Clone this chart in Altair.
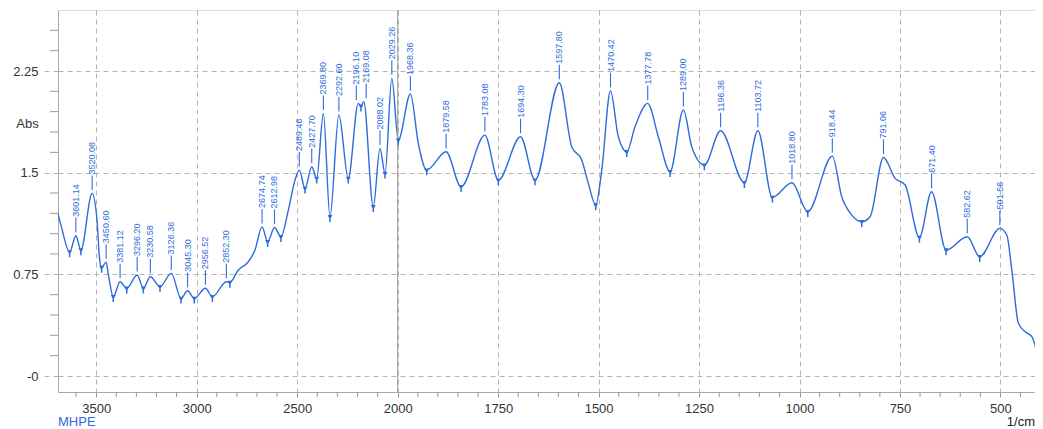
import altair as alt
import pandas as pd

# ---- spectrum trace (1/cm, Abs) ----
wavenumber = [3690, 3673, 3632, 3601.14, 3576, 3520.08, 3496, 3483.6, 3473, 3450.60,
              3439, 3415, 3381.12, 3348, 3296.20, 3265.6, 3230.58, 3182.6, 3126.36, 3078,
              3045.30, 3012, 2956.52, 2922, 2852.30, 2835, 2793, 2743, 2710, 2674.74,
              2647, 2612.98, 2581, 2544, 2511, 2489.46, 2461, 2427.70, 2403, 2369.80,
              2337, 2292.60, 2246, 2196.10, 2182.6, 2169.08, 2121.4, 2088.02, 2063, 2029.26,
              1998.5, 1968.36, 1948.7, 1927.8, 1879.58, 1842.4, 1783.08, 1749.6, 1694.30, 1658.3,
              1597.80, 1566.9, 1542, 1525.6, 1507.2, 1492.2, 1470.42, 1451, 1430, 1409.4,
              1377.78, 1351.4, 1322.2, 1289.00, 1268.2, 1236.9, 1196.36, 1137.3, 1103.72, 1067.6,
              1018.80, 979.5, 918.44, 894.9, 870, 845.1, 824.4, 791.06, 762.2, 737.3,
              701.7, 671.40, 635.3, 582.62, 551.6, 501.56, 484.2, 471.7, 455.3, 438.6,
              421.9, 397]
absorbance = [1.20, 1.10, 0.915, 1.035, 0.93, 1.347, 1.15, 0.87, 0.80, 0.84,
              0.745, 0.585, 0.695, 0.647, 0.745, 0.647, 0.732, 0.659, 0.757, 0.573,
              0.629, 0.573, 0.647, 0.585, 0.695, 0.69, 0.782, 0.843, 0.929, 1.10,
              0.99, 1.096, 1.027, 1.224, 1.445, 1.519, 1.384, 1.544, 1.458, 1.937,
              1.175, 1.925, 1.458, 2.011, 1.99, 2.023, 1.249, 1.679, 1.495, 2.196,
              1.74, 2.08, 1.716, 1.519, 1.654, 1.396, 1.777, 1.445, 1.765, 1.445,
              2.163, 1.691, 1.593, 1.421, 1.261, 1.519, 2.104, 1.765, 1.654, 1.839,
              2.011, 1.765, 1.507, 1.962, 1.691, 1.556, 1.809, 1.426, 1.809, 1.318,
              1.426, 1.212, 1.622, 1.322, 1.187, 1.138, 1.175, 1.612, 1.458, 1.409,
              1.023, 1.359, 0.929, 1.027, 0.880, 1.089, 1.04, 0.782, 0.389, 0.327,
              0.29, 0.005]
assert len(wavenumber) == len(absorbance)

# labelled peaks
peak_wn = [3601.14, 3520.08, 3450.60, 3381.12, 3296.20, 3230.58, 3126.36, 3045.30, 2956.52,
           2852.30, 2674.74, 2612.98, 2489.46, 2427.70, 2369.80, 2292.60, 2196.10, 2169.08,
           2088.02, 2029.26, 1968.36, 1879.58, 1783.08, 1694.30, 1597.80, 1470.42, 1377.78,
           1289.00, 1196.36, 1103.72, 1018.80, 918.44, 791.06, 671.40, 582.62, 501.56]
# marked valleys
valley_wn = [3632, 3576, 3473, 3415, 3348, 3265.6, 3182.6, 3078, 3012, 2922, 2835, 2647,
             2581, 2461, 2403, 2337, 2246, 2182.6, 2121.4, 2063, 1998.5, 1927.8, 1842.4,
             1749.6, 1658.3, 1507.2, 1430, 1322.2, 1236.9, 1137.3, 1067.6, 979.5, 845.1,
             701.7, 635.3, 551.6]

x_major = [3500, 3000, 2500, 2000, 1750, 1500, 1250, 1000, 750, 500]
x_minor = [3600, 3400, 3300, 3200, 3100, 2900, 2800, 2700, 2600, 2400, 2300, 2200, 2100,
           1950, 1900, 1850, 1800, 1700, 1650, 1600, 1550, 1450, 1400, 1350, 1300,
           1200, 1150, 1100, 1050, 950, 900, 850, 800, 700, 650, 600, 550, 450]
y_major = [0, 0.75, 1.5, 2.25]
y_minor = [0.15, 0.3, 0.45, 0.6, 0.9, 1.05, 1.2, 1.35, 1.65, 1.8, 1.95, 2.1, 2.4, 2.55]

lookup = dict(zip(wavenumber, absorbance))
spec = pd.DataFrame({"wn": wavenumber, "abs": absorbance})
peaks = pd.DataFrame({"wn": peak_wn, "abs": [lookup[w] for w in peak_wn],
                      "label": [f"{w:.2f}" for w in peak_wn]})
valleys = pd.DataFrame({"wn": valley_wn, "abs": [lookup[w] for w in valley_wn]})

BLUE = "#2e6bdc"
GRID = "#b4b4b4"
FONT = "Liberation Sans"
W, H = 977, 382
BREAK_PX = 339.7   # pixel position of the 2000 1/cm scale break

x_scale = alt.Scale(domain=[3690, 2000, 414], range=[0, BREAK_PX, W], nice=False, zero=False)
y_scale = alt.Scale(domain=[-0.118, 2.70], nice=False, zero=False)

x_axis = alt.Axis(values=x_major, format="d", grid=True, gridColor=GRID, gridDash=[5, 4],
                  tickSize=5, tickColor="#999", labelPadding=5, labelFontSize=13,
                  labelColor="#333", labelFont=FONT, domainColor="#aaa", title=None,
                  labelFlush=False)
y_axis = alt.Axis(values=y_major, grid=True, gridColor=GRID, gridDash=[5, 4],
                  tickSize=16, tickColor=GRID, tickDash=[5, 4], labelPadding=4,
                  labelFontSize=13, labelColor="#333", labelFont=FONT,
                  labelExpr="datum.value == 0 ? '-0' : format(datum.value, '~g')",
                  domainColor="#aaa", title="Abs", titleAngle=0, titleX=-31, titleY=113,
                  titleAlign="center", titleBaseline="middle", titleFontSize=13,
                  titleFontWeight="normal", titleFont=FONT, titleColor="#333")

X = alt.X("wn:Q", scale=x_scale, axis=x_axis)
Y = alt.Y("abs:Q", scale=y_scale, axis=y_axis)

line = alt.Chart(spec).mark_line(color=BLUE, strokeWidth=1.4, interpolate="monotone",
                                 clip=True).encode(x=X, y=Y)

break_rule = alt.Chart(pd.DataFrame({"wn": [2000]})).mark_rule(color="#9a9a9a", strokeWidth=1).encode(x=X)

xminor = alt.Chart(pd.DataFrame({"wn": x_minor})).mark_rule(color="#999", strokeWidth=1).encode(
    x=X, y=alt.value(H), y2=alt.value(H + 5))
yminor = alt.Chart(pd.DataFrame({"abs": y_minor})).mark_rule(color="#999", strokeWidth=1).encode(
    y=Y, x=alt.value(-8), x2=alt.value(0))

special = {2196.10: -2.0, 2169.08: 2.5}
label_layers = []
base_peaks = peaks[~peaks["wn"].isin(list(special))]
groups = [(base_peaks, 0)] + [(peaks[peaks["wn"] == w], off) for w, off in special.items()]
for df, off in groups:
    leader = alt.Chart(df).mark_rule(color=BLUE, strokeWidth=1.1, yOffset=-3.5, y2Offset=-18,
                                     xOffset=off, x2Offset=off).encode(x=X, y=Y, y2="abs:Q")
    txt = alt.Chart(df).mark_text(color=BLUE, font=FONT, fontSize=9, angle=270, align="left",
                                  baseline="middle", dx=19, xOffset=off).encode(x=X, y=Y, text="label:N")
    label_layers += [leader, txt]

VALLEY_SHAPE = "M-0.8,-0.9 L0.8,-0.9 L0.25,0.2 L0.25,1.4 L-0.25,1.4 L-0.25,0.2 Z"
vmark = alt.Chart(valleys).mark_point(shape=VALLEY_SHAPE, filled=True, color=BLUE, size=36,
                                      yOffset=1, opacity=1).encode(x=X, y=Y)

mhpe = alt.Chart(pd.DataFrame({"t": ["MHPE"]})).mark_text(
    color=BLUE, font=FONT, fontSize=13, align="left", baseline="middle").encode(
    x=alt.value(0), y=alt.value(H + 30), text="t:N")
unit = alt.Chart(pd.DataFrame({"t": ["1/cm"]})).mark_text(
    color="#222", font=FONT, fontSize=13, align="right", baseline="middle").encode(
    x=alt.value(W), y=alt.value(H + 30), text="t:N")

chart = alt.layer(line, break_rule, xminor, yminor, *label_layers, vmark, mhpe, unit).properties(
    width=W, height=H, autosize="none",
    padding={"left": 50, "top": 2, "right": 0, "bottom": 37},
).configure_view(stroke="#cccccc", strokeWidth=1.5).configure(background="white")

chart.save("out.html", embed_options={"renderer": "svg", "actions": False})
